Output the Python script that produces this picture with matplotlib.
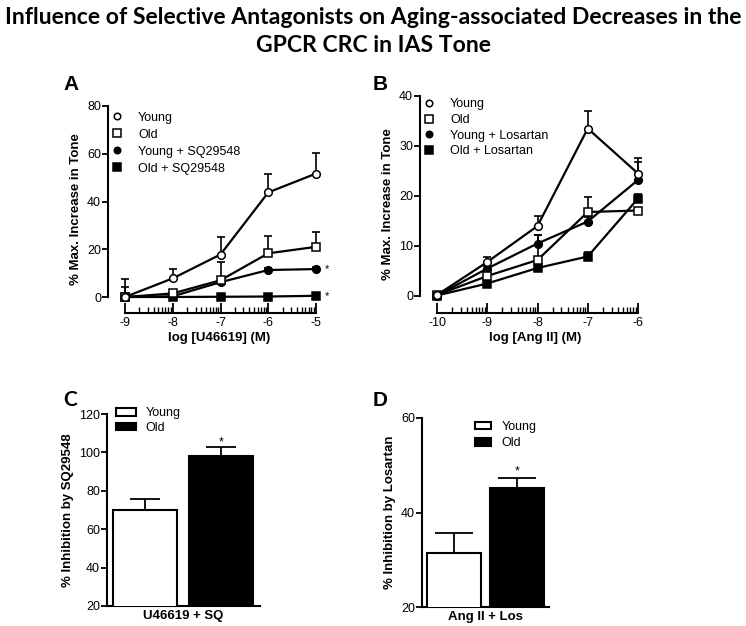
import numpy as np
import matplotlib
matplotlib.use("Agg")
import matplotlib.pyplot as plt
from matplotlib.ticker import FixedLocator
from matplotlib.patches import Patch

plt.rcParams['font.family'] = ['Liberation Sans', 'DejaVu Sans']
plt.rcParams['axes.unicode_minus'] = False

W, H = 746, 626

# ---- data: panel A (U46619 CRC) ----
logA = [-9, -8, -7, -6, -5]
a_young = [0.0, 7.8, 17.8, 43.8, 51.7]
a_young_sem = [7.5, 4.0, 7.4, 7.7, 8.8]
a_old = [0.0, 1.5, 7.0, 18.3, 21.0]
a_old_sem = [4.2, 1.0, 7.5, 7.2, 6.3]
a_young_sq = [0.0, 0.3, 6.2, 11.3, 11.7]
a_young_sq_sem = [0.0, 0.4, 0.9, 0.8, 0.8]
a_old_sq = [0.0, 0.0, 0.1, 0.2, 0.5]
a_old_sq_sem = [0.0, 0.1, 0.2, 0.3, 0.4]
a_labels = ['Young', 'Old', 'Young + SQ29548', 'Old + SQ29548']

# ---- data: panel B (Ang II CRC) ----
logB = [-10, -9, -8, -7, -6]
b_young = [0.2, 6.8, 14.0, 33.5, 24.5]
b_young_sem = [0.3, 1.1, 2.0, 3.5, 3.2]
b_old = [0.2, 4.0, 7.2, 16.8, 17.1]
b_old_sem = [0.2, 0.6, 5.1, 3.0, 0.5]
b_young_los = [0.1, 5.5, 10.5, 14.9, 23.2]
b_young_los_sem = [0.2, 0.5, 1.8, 1.0, 3.6]
b_old_los = [0.1, 2.5, 5.6, 7.9, 19.5]
b_old_los_sem = [0.1, 0.3, 0.4, 0.9, 1.0]
b_labels = ['Young', 'Old', 'Young + Losartan', 'Old + Losartan']

# ---- data: panels C, D (% inhibition) ----
groups = ['Young', 'Old']
c_vals = [70.2, 98.0]
c_sem = [5.3, 4.8]
d_vals = [31.5, 45.2]
d_sem = [4.2, 2.0]


def px_axes(fig, left, top, right, bottom):
    return fig.add_axes([left / W, 1 - bottom / H, (right - left) / W, (bottom - top) / H])


def log_minor(lo, hi):
    return [d + np.log10(k) for d in range(lo, hi) for k in range(2, 10)]


def style_crc(ax, xlo, xhi, ymax, ystep):
    for s in ('top', 'right'):
        ax.spines[s].set_visible(False)
    ax.spines['left'].set_bounds(0, ymax)
    ax.spines['bottom'].set_bounds(xlo, xhi)
    ax.spines['left'].set_linewidth(1.5)
    ax.spines['bottom'].set_linewidth(1.5)
    ax.set_yticks(np.arange(0, ymax + 1, ystep))
    ax.set_xticks(range(xlo, xhi + 1))
    ax.xaxis.set_minor_locator(FixedLocator(log_minor(xlo, xhi)))
    ax.tick_params(axis='y', direction='out', length=4, width=1.3, labelsize=9, pad=1)
    ax.tick_params(axis='x', which='major', direction='in', length=7, width=1.3,
                   labelsize=9, pad=3)
    ax.tick_params(axis='x', which='minor', direction='in', length=4, width=1.0)
    ax.patch.set_visible(False)


def crc_series(ax, x, y, sem, marker, face, ms, label):
    ax.errorbar(x, y, yerr=[np.zeros(len(sem)), sem], fmt='none', ecolor='black',
                elinewidth=1.2, capsize=3, capthick=1.2, zorder=2, clip_on=False)
    ax.plot(x, y, color='black', lw=1.6, marker=marker, mfc=face, mec='black',
            mew=1.1, ms=ms, label=label, zorder=3, clip_on=False)


def crc_legend(ax, labels, y0, spacing):
    h, l = ax.get_legend_handles_labels()
    order = [l.index(n) for n in labels]
    ax.legend([h[i] for i in order], [l[i] for i in order], loc='upper left',
              bbox_to_anchor=(0.0, y0), frameon=False, fontsize=9, handlelength=0,
              handletextpad=1.7, labelspacing=spacing, borderaxespad=0.3, markerscale=0.85)


fig = plt.figure(figsize=(W / 100, H / 100), dpi=100)

fig.text(0.5, 1 - 18 / H, 'Influence of Selective Antagonists on Aging-associated Decreases in the',
         ha='center', va='center', fontsize=16.6, fontweight='bold', family='Lato')
fig.text(0.5, 1 - 46 / H, 'GPCR CRC in IAS Tone',
         ha='center', va='center', fontsize=16.6, fontweight='bold', family='Lato')

# ---- panel A ----
axA = px_axes(fig, 108, 106, 330, 313)
axA.set_xlim(-9 - 17 / 47.75, -5 + 14 / 47.75)
axA.set_ylim(-16 / 2.3875, 80)
crc_series(axA, logA, a_young_sq, a_young_sq_sem, 'o', 'black', 5.5, a_labels[2])
crc_series(axA, logA, a_old_sq, a_old_sq_sem, 's', 'black', 6, a_labels[3])
crc_series(axA, logA, a_old, a_old_sem, 's', 'white', 6, a_labels[1])
crc_series(axA, logA, a_young, a_young_sem, 'o', 'white', 5.5, a_labels[0])
style_crc(axA, -9, -5, 80, 20)
axA.set_ylabel('% Max. Increase in Tone', fontsize=9.5, fontweight='bold', labelpad=4)
axA.set_xlabel('log [U46619] (M)', fontsize=9.5, fontweight='bold', labelpad=2)
crc_legend(axA, a_labels, 1.015, 0.4)
for t in (a_young_sq[-1], a_old_sq[-1]):
    axA.text(-5 + 11 / 47.75, t, '*', fontsize=8, ha='center', va='center')
fig.text(63 / W, 1 - 84 / H, 'A', fontsize=15, fontweight='bold', ha='left', va='center')

# ---- panel B ----
axB = px_axes(fig, 420, 96, 650, 313)
axB.set_xlim(-10 - 17 / 50.25, -6 + 12 / 50.25)
axB.set_ylim(-17 / 5, 40)
crc_series(axB, logB, b_young_los, b_young_los_sem, 'o', 'black', 5.5, b_labels[2])
crc_series(axB, logB, b_old_los, b_old_los_sem, 's', 'black', 6, b_labels[3])
crc_series(axB, logB, b_old, b_old_sem, 's', 'white', 6, b_labels[1])
crc_series(axB, logB, b_young, b_young_sem, 'o', 'white', 5.5, b_labels[0])
style_crc(axB, -10, -6, 40, 10)
axB.set_ylabel('% Max. Increase in Tone', fontsize=9.5, fontweight='bold', labelpad=4)
axB.set_xlabel('log [Ang II] (M)', fontsize=9.5, fontweight='bold', labelpad=2)
crc_legend(axB, b_labels, 1.03, 0.3)
fig.text(373 / W, 1 - 84 / H, 'B', fontsize=15, fontweight='bold', ha='left', va='center')


def bar_panel(ax, vals, sem, width, capsize, ylim, yticks, ylabel, xlabel):
    x = np.arange(len(vals))
    ax.bar(x, vals, width=width, color=['white', 'black'], edgecolor='black',
           linewidth=1.5, bottom=0, zorder=3)
    ax.errorbar(x, vals, yerr=[np.zeros(len(sem)), sem], fmt='none', ecolor='black',
                elinewidth=1.3, capsize=capsize, capthick=1.3, zorder=2)
    ax.set_ylim(*ylim)
    ax.set_yticks(yticks)
    ax.set_xticks([])
    for s in ('top', 'right'):
        ax.spines[s].set_visible(False)
    ax.spines['left'].set_linewidth(1.5)
    ax.spines['bottom'].set_linewidth(1.5)
    ax.tick_params(axis='y', direction='out', length=4, width=1.3, labelsize=9, pad=1)
    ax.set_ylabel(ylabel, fontsize=9.5, fontweight='bold', labelpad=4)
    ax.set_xlabel(xlabel, fontsize=9.5, fontweight='bold', labelpad=3)
    ax.patch.set_visible(False)
    return x


def bar_legend(ax, anchor, hl, spacing):
    ax.legend(handles=[Patch(facecolor=c, edgecolor='black', linewidth=1.5, label=g)
                       for c, g in zip(['white', 'black'], groups)],
              loc='upper left', bbox_to_anchor=anchor, frameon=False, fontsize=9,
              handlelength=hl, handleheight=0.55, handletextpad=0.8, labelspacing=spacing,
              borderaxespad=0.3)


# ---- panel C ----
axC = px_axes(fig, 107, 414, 260, 606)
axC.set_xlim(-0.5, 1.51)
xc = bar_panel(axC, c_vals, c_sem, 0.842, 11, (20, 120), np.arange(20, 121, 20),
               '% Inhibition by SQ29548', 'U46619 + SQ')
axC.text(xc[1], c_vals[1] + c_sem[1] + 2.5, '*', ha='center', va='center', fontsize=9)
bar_legend(axC, (0.0, 1.08), 1.6, 0.2)
fig.text(63 / W, 1 - 400 / H, 'C', fontsize=15, fontweight='bold', ha='left', va='center',
         family='Lato')

# ---- panel D ----
axD = px_axes(fig, 422, 418, 549, 607)
axD.set_xlim(-0.5, 1.5)
xd = bar_panel(axD, d_vals, d_sem, 0.85, 14, (20, 60), [20, 40, 60],
               '% Inhibition by Losartan', 'Ang II + Los')
axD.text(xd[1], d_vals[1] + d_sem[1] + 1.4, '*', ha='center', va='center', fontsize=9)
bar_legend(axD, (0.35, 1.03), 1.3, 0.35)
fig.text(373 / W, 1 - 400 / H, 'D', fontsize=15, fontweight='bold', ha='left', va='center')

fig.savefig('out.png', dpi=100)
